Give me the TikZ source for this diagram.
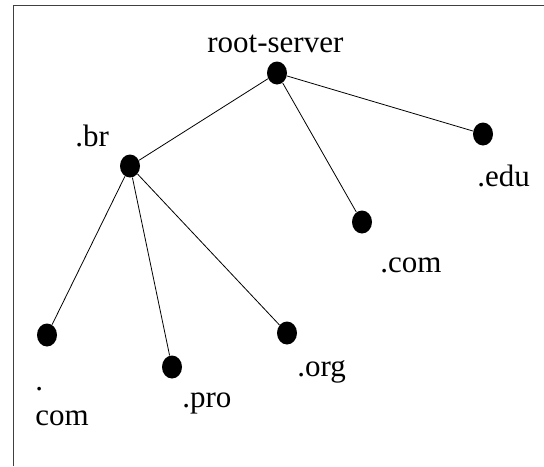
\documentclass[tikz,border=0pt]{standalone}
\usepackage{fontspec}
\setmainfont{Liberation Serif}
\usetikzlibrary{shapes.geometric, positioning}

\begin{document}
\begin{tikzpicture}[x=0.5pt, y=-0.5pt,
    host/.style={ellipse, fill=black, minimum width=10pt, minimum height=11.5pt, inner sep=0pt},
    dnsname/.style={inner sep=0pt, anchor=base west, font=\fontsize{15.5}{17.5}\selectfont, align=left}]

    \useasboundingbox (0,0) rectangle (544,466);
    \draw[line width=0.8pt, black!75] (13.5,466) -- (13.5,5.5) -- (544,5.5);

    \node (root) [host] at (277,73) {};
    \node (br) [host] at (130,166) {};
    \node (edu) [host] at (483,134) {};
    \node (com) [host] at (362,222) {};
    \node (brcom) [host] at (47,335) {};
    \node (pro) [host] at (172,367) {};
    \node (org) [host] at (287,333) {};

    \node (rootname) [dnsname] at (207,52) {root-server};
    \node (brname) [dnsname] at (75,146) {.br};
    \node (eduname) [dnsname] at (477,186) {.edu};
    \node (comname) [dnsname] at (380,272) {.com};
    \node (brcomname) [dnsname] at (35,425) {.\\com};
    \node (proname) [dnsname] at (182,407) {.pro};
    \node (orgname) [dnsname] at (297,376) {.org};

    \draw (root) -- (br);
    \draw (root) -- (com);
    \draw (root) -- (edu);
    \draw (br) -- (brcom);
    \draw (br) -- (pro);
    \draw (br) -- (org);

\end{tikzpicture}
\end{document}
